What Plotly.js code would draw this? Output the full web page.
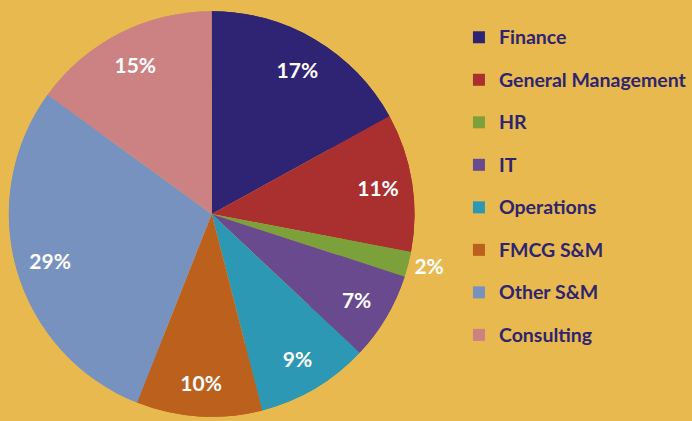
<!DOCTYPE html>
<html><head><meta charset="utf-8">
<script src="https://cdn.plot.ly/plotly-3.0.1.min.js"></script>
<style>html,body{margin:0;padding:0;background:#E8B94E;}</style>
</head><body>
<div id="chart" style="width:692px;height:421px;"></div>
<script>
const categories = ["Finance","General Management","HR","IT","Operations","FMCG S&M","Other S&M","Consulting"];
const shares = [17, 11, 2, 7, 9, 10, 29, 15];
const colors = ["#2F2374","#AA2F2F","#7CA13A","#694A8F","#2D98B3","#BC611D","#7892C0","#CC8282"];
const positions = ["inside","inside","outside","inside","inside","inside","inside","inside"];

const legendLabels = categories.map(c => '<span style="font-size:19.5px;font-weight:bold;baseline-shift:5px">' + c + '</span>');
const pieDomain = {x: [9/692, 420/692], y: [2/421, 412/421]};

// full pie with the slices (and the legend)
const base = {
  type: "pie",
  labels: legendLabels,
  values: shares,
  sort: false,
  direction: "clockwise",
  rotation: 0,
  marker: {colors: colors, line: {width: 0}},
  textinfo: "none",
  hoverinfo: "none",
  domain: pieDomain
};
// ring overlay carrying the percentage labels further out
const labelsRing = {
  type: "pie",
  labels: legendLabels,
  values: shares,
  sort: false,
  direction: "clockwise",
  rotation: 0,
  hole: 0.66,
  showlegend: false,
  marker: {colors: colors, line: {width: 0}},
  texttemplate: "%{value}%",
  textposition: positions,
  insidetextorientation: "horizontal",
  textfont: {family: "Lato, sans-serif", size: 21, color: "#FFFFFF", weight: "bold"},
  outsidetextfont: {family: "Lato, sans-serif", size: 21, color: "#FFFFFF", weight: "bold"},
  hoverinfo: "none",
  domain: pieDomain
};

const layout = {
  width: 692, height: 421,
  margin: {l: 0, r: 0, t: 0, b: 0},
  paper_bgcolor: "#E8B94E",
  plot_bgcolor: "#E8B94E",
  showlegend: true,
  legend: {
    x: 465/692, y: 1 - 11/421, xanchor: "left", yanchor: "top",
    font: {family: "Lato, sans-serif", size: 30.4, color: "#2E2470", weight: "bold"},
    bgcolor: "rgba(0,0,0,0)"
  }
};
Plotly.newPlot("chart", [base, labelsRing], layout, {displayModeBar: false, staticPlot: true});
</script>
</body></html>
